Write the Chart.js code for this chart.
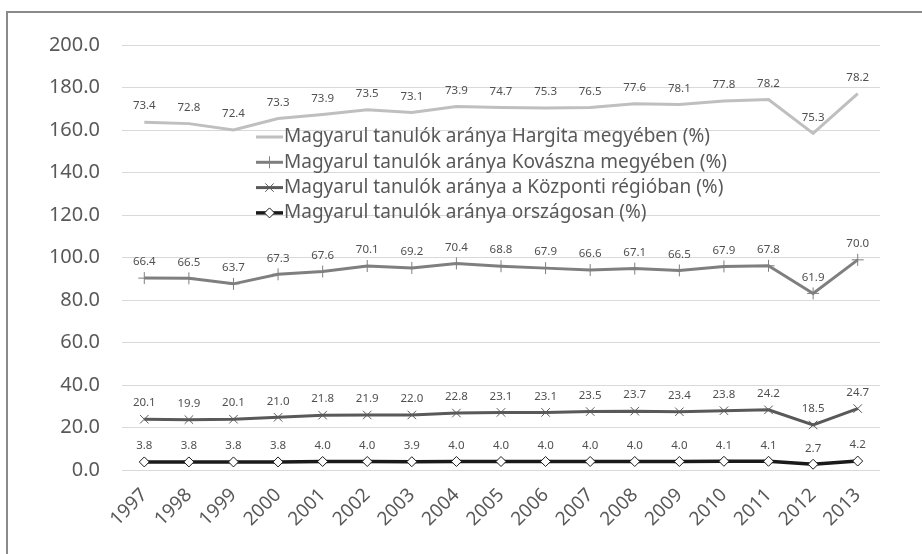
<!DOCTYPE html>
<html>
<head>
<meta charset="utf-8">
<script src="https://cdn.jsdelivr.net/npm/chart.js@4/dist/chart.umd.min.js"></script>
<style>
  body { margin: 0; background: #fff; }
  #wrap { position: relative; width: 922px; height: 554px; }
  #frame { position: absolute; left: 6px; top: 11px; right: -5px; bottom: -5px;
           border-left: 2px solid #8a8a8a; border-top: 2px solid #8a8a8a; pointer-events: none; }
</style>
</head>
<body>
<div id="wrap">
  <canvas id="myChart" width="922" height="554"></canvas>
  <div id="frame"></div>
</div>
<script>
const years = ['1997', '1998', '1999', '2000', '2001', '2002', '2003', '2004', '2005',
               '2006', '2007', '2008', '2009', '2010', '2011', '2012', '2013'];

const hargita = [73.4, 72.8, 72.4, 73.3, 73.9, 73.5, 73.1, 73.9, 74.7, 75.3, 76.5, 77.6, 78.1, 77.8, 78.2, 75.3, 78.2];
const kovaszna = [66.4, 66.5, 63.7, 67.3, 67.6, 70.1, 69.2, 70.4, 68.8, 67.9, 66.6, 67.1, 66.5, 67.9, 67.8, 61.9, 70.0];
const kozponti = [20.1, 19.9, 20.1, 21.0, 21.8, 21.9, 22.0, 22.8, 23.1, 23.1, 23.5, 23.7, 23.4, 23.8, 24.2, 18.5, 24.7];
const orszagos = [3.8, 3.8, 3.8, 3.8, 4.0, 4.0, 3.9, 4.0, 4.0, 4.0, 4.0, 4.0, 4.0, 4.1, 4.1, 2.7, 4.2];

const yTicks = [0, 20, 40, 60, 80, 100, 120, 140, 160, 180, 200];

const FONT = '"Noto Sans", "DejaVu Sans", sans-serif';

// pontcímkék (az egyedi értékek, a halmozott pont fölött)
const valueLabels = {
    id: 'valueLabels',
    afterDatasetsDraw(chart) {
        const ctx = chart.ctx;
        ctx.save();
        ctx.font = '11.5px ' + FONT;
        ctx.fillStyle = '#505050';
        ctx.textAlign = 'center';
        ctx.textBaseline = 'middle';
        chart.data.datasets.forEach((ds, i) => {
            const meta = chart.getDatasetMeta(i);
            meta.data.forEach((pt, j) => {
                ctx.fillText(ds.data[j].toFixed(1), pt.x, pt.y - 16);
            });
        });
        ctx.restore();
    }
};

// jelmagyarázat a rajzterületen belül
const innerLegend = {
    id: 'innerLegend',
    afterDraw(chart) {
        const ctx = chart.ctx;
        const order = [3, 2, 1, 0];
        const x0 = 256, x1 = 283, yStart = 137, rowH = 25.3;
        ctx.save();
        ctx.font = '19px ' + FONT;
        ctx.textBaseline = 'middle';
        ctx.textAlign = 'left';
        order.forEach((idx, r) => {
            const ds = chart.data.datasets[idx];
            const y = yStart + r * rowH;
            ctx.strokeStyle = ds.borderColor;
            ctx.lineWidth = ds.borderWidth;
            ctx.beginPath();
            ctx.moveTo(x0, y);
            ctx.lineTo(x1, y);
            ctx.stroke();
            if (ds.pointRadius > 0) {
                ctx.fillStyle = ds.pointBackgroundColor;
                ctx.strokeStyle = ds.pointBorderColor;
                ctx.lineWidth = ds.pointBorderWidth;
                Chart.helpers.drawPoint(ctx, {
                    pointStyle: ds.pointStyle,
                    radius: ds.pointRadius,
                    borderWidth: ds.pointBorderWidth,
                    rotation: 0
                }, (x0 + x1) / 2, y);
            }
            ctx.fillStyle = '#595959';
            ctx.fillText(ds.label, x1 + 1, y);
        });
        ctx.restore();
    }
};

const ctx = document.getElementById('myChart').getContext('2d');
const myChart = new Chart(ctx, {
    type: 'line',
    data: {
        labels: years,
        datasets: [
            {
                label: 'Magyarul tanulók aránya országosan (%)',
                data: orszagos,
                borderColor: '#1a1a1a',
                borderWidth: 3.5,
                pointStyle: 'rectRot',
                pointRadius: 5,
                pointBackgroundColor: '#ffffff',
                pointBorderColor: '#1a1a1a',
                pointBorderWidth: 1
            },
            {
                label: 'Magyarul tanulók aránya a Központi régióban (%)',
                data: kozponti,
                borderColor: '#595959',
                borderWidth: 3,
                pointStyle: 'crossRot',
                pointRadius: 6,
                pointBackgroundColor: '#595959',
                pointBorderColor: '#595959',
                pointBorderWidth: 1
            },
            {
                label: 'Magyarul tanulók aránya Kovászna megyében (%)',
                data: kovaszna,
                borderColor: '#7f7f7f',
                borderWidth: 3,
                pointStyle: 'cross',
                pointRadius: 6,
                pointBackgroundColor: '#7f7f7f',
                pointBorderColor: '#7f7f7f',
                pointBorderWidth: 1
            },
            {
                label: 'Magyarul tanulók aránya Hargita megyében (%)',
                data: hargita,
                borderColor: '#bfbfbf',
                borderWidth: 3,
                pointRadius: 0
            }
        ]
    },
    options: {
        responsive: false,
        animation: false,
        layout: { padding: { top: 45, right: 42, left: 0, bottom: 0 } },
        plugins: {
            legend: { display: false },
            tooltip: { enabled: false }
        },
        scales: {
            x: {
                offset: true,
                grid: { display: false, drawTicks: false },
                border: { display: false },
                ticks: {
                    minRotation: 45,
                    maxRotation: 45,
                    padding: 14,
                    color: '#595959',
                    font: { family: FONT, size: 19 }
                },
                afterFit(scale) { scale.height = 84; }
            },
            y: {
                stacked: true,
                min: 0,
                max: 200,
                afterBuildTicks(scale) { scale.ticks = yTicks.map(v => ({ value: v })); },
                grid: { color: '#d9d9d9', lineWidth: 1, drawTicks: false },
                border: { display: false },
                ticks: {
                    padding: 22,
                    color: '#595959',
                    font: { family: FONT, size: 20 },
                    callback: v => v.toFixed(1)
                },
                afterFit(scale) { scale.width = 122; }
            }
        }
    },
    plugins: [valueLabels, innerLegend]
});
</script>
</body>
</html>
